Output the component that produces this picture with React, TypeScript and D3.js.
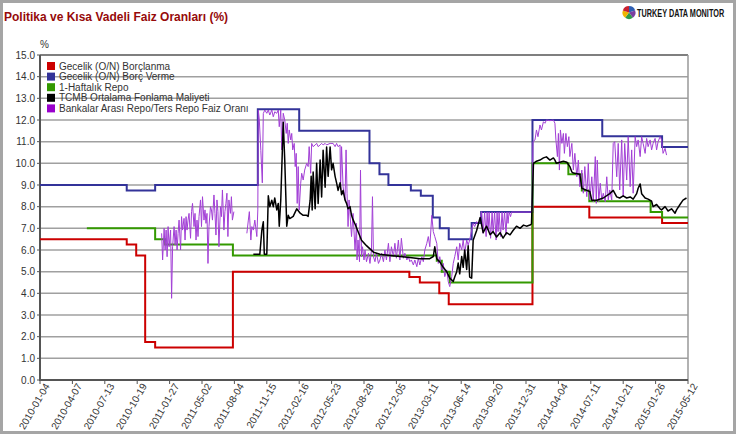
import * as d3 from 'd3';
import React, { useEffect, useRef } from 'react';

const W = 736;
const H = 434;
const FONT = "'Liberation Sans', Arial, sans-serif";

// x axis is a trading-day index, one label every 65 days
const TICK_STEP = 65;
const dateLabels = [
  '2010-01-04', '2010-04-07', '2010-07-13', '2010-10-19', '2011-01-27',
  '2011-05-02', '2011-08-04', '2011-11-15', '2012-02-16', '2012-05-23',
  '2012-08-28', '2012-12-05', '2013-03-11', '2013-06-14', '2013-09-20',
  '2013-12-31', '2014-04-04', '2014-07-11', '2014-10-21', '2015-01-26',
  '2015-05-12',
];
const yTicks = d3.range(0, 16);

// policy rates: [day index, rate from that day on]
const borrowingRate: [number, number][] = [
  [0, 6.5], [174, 6.25], [193, 5.75], [211, 1.75], [231, 1.5], [387, 5.0],
  [741, 4.75], [762, 4.5], [801, 4.0], [820, 3.5], [988, 8.0], [1102, 7.5],
  [1248, 7.25], [1300, 7.25],
];
const lendingRate: [number, number][] = [
  [0, 9.0], [174, 8.75], [231, 9.0], [437, 12.5], [520, 11.5], [661, 10.0],
  [681, 9.5], [699, 9.0], [744, 8.75], [764, 8.5], [788, 7.5], [802, 7.0],
  [820, 6.5], [866, 7.25], [885, 7.75], [988, 12.0], [1128, 11.25],
  [1248, 10.75], [1300, 10.75],
];
const weeklyRepo: [number, number][] = [
  [94, 7.0], [231, 6.5], [251, 6.25], [387, 5.75], [796, 5.5], [806, 5.0],
  [822, 4.5], [988, 10.0], [1060, 9.5], [1087, 8.75], [1102, 8.25],
  [1225, 7.75], [1248, 7.5], [1300, 7.5],
];

// daily series
const fundingCost: [number, number][] = [
  [428, 5.8], [441, 5.8], [445, 6.9], [448, 7.3], [450, 5.8], [455, 5.8],
  [458, 8.5], [461, 8.0], [465, 8.3], [468, 8.0], [471, 8.4], [475, 7.85],
  [478, 8.15], [480, 7.1], [483, 8.3], [488, 11.9], [491, 10.15], [495, 7.1],
  [498, 7.6], [501, 7.45], [508, 7.55], [515, 7.9], [522, 7.7], [528, 7.6],
  [535, 7.6], [538, 7.55], [542, 8.3], [544, 9.4], [546, 7.85], [548, 9.6],
  [552, 7.9], [555, 10.0], [558, 8.15], [562, 10.15], [565, 8.45], [568, 10.6],
  [572, 8.9], [575, 10.75], [578, 9.4], [582, 10.75], [585, 9.7], [588, 10.0],
  [592, 9.4], [595, 9.1], [598, 8.75], [602, 9.1], [605, 8.55], [608, 8.75],
  [612, 8.3], [615, 8.15], [618, 7.9], [622, 8.0], [625, 7.6], [628, 7.4],
  [632, 7.2], [639, 6.8], [645, 6.45], [655, 6.2], [669, 5.9], [682, 5.8],
  [702, 5.75], [722, 5.7], [742, 5.65], [762, 5.6], [782, 5.6], [789, 5.7],
  [792, 6.15], [796, 5.6], [802, 5.45], [809, 5.2], [816, 5.0], [822, 4.7],
  [829, 4.55], [832, 4.75], [836, 5.0], [839, 5.4], [842, 4.9], [846, 5.7],
  [849, 5.2], [852, 6.0], [856, 5.1], [859, 6.2], [862, 4.75], [866, 4.7],
  [869, 6.45], [876, 6.9], [883, 7.5], [889, 6.8], [896, 7.1], [903, 6.7],
  [909, 6.85], [916, 6.6], [923, 6.8], [929, 6.55], [936, 6.8], [943, 6.7],
  [949, 6.9], [956, 7.1], [963, 7.0], [970, 7.15], [976, 7.1], [983, 7.15],
  [986, 7.2], [990, 10.0], [996, 10.1], [1003, 10.15], [1010, 10.25],
  [1016, 10.3], [1023, 10.15], [1030, 10.25], [1033, 10.15], [1036, 10.0],
  [1043, 10.05], [1050, 10.1], [1057, 10.05], [1063, 9.85], [1067, 9.6],
  [1070, 9.55], [1083, 9.5], [1087, 8.85], [1097, 8.75], [1103, 8.7],
  [1107, 8.3], [1117, 8.3], [1130, 8.4], [1143, 8.6], [1150, 8.75],
  [1157, 8.45], [1163, 8.4], [1170, 8.5], [1177, 8.4], [1184, 8.45],
  [1190, 8.35], [1197, 8.6], [1200, 8.85], [1204, 9.05], [1207, 8.6],
  [1214, 8.4], [1220, 8.35], [1227, 8.25], [1230, 8.0], [1237, 8.1],
  [1244, 7.9], [1247, 7.85], [1254, 8.0], [1260, 7.8], [1267, 7.9],
  [1274, 7.7], [1277, 7.85], [1284, 8.1], [1290, 8.3], [1297, 8.4],
];

const interbankRate: [number, number | null][] = [
  [244, 6.77], [246, 5.54], [249, 7.0], [251, 6.0], [253, 6.92], [255, 5.69],
  [257, 7.08], [259, 6.15], [262, 6.92], [264, 3.77], [266, 6.15], [269, 7.08],
  [271, 6.23], [273, 6.92], [275, 6.0], [277, 6.77], [279, 7.38], [282, 6.0],
  [284, 7.54], [286, 6.92], [289, 7.46], [291, 6.46], [293, 7.54], [295, 6.92],
  [297, 7.38], [299, 7.69], [302, 6.54], [304, 7.77], [306, 8.15], [309, 7.08],
  [311, 7.69], [313, 6.46], [315, 7.38], [317, 6.62], [319, 7.54], [322, 8.31],
  [324, 7.08], [326, 8.46], [329, 7.38], [331, 7.85], [333, 7.23], [335, 7.69],
  [337, 5.38], [339, 7.08], [342, 8.0], [344, 7.85], [346, 7.38], [349, 8.54],
  [351, 7.69], [353, 6.69], [355, 8.31], [357, 7.77], [359, 6.15], [362, 8.0],
  [364, 7.54], [366, 8.77], [369, 6.92], [371, 7.77], [373, 8.15], [375, 8.62],
  [377, 6.62], [379, 8.31], [382, 7.69], [384, 8.46], [386, 7.38], [389, 7.77],
  [390, null],
  [415, 6.77], [418, 7.38], [420, 7.77], [423, 6.46], [425, 7.08], [428, 6.92],
  [431, 7.38], [435, 6.62], [437, 7.85], [438, 12.46], [440, 12.0],
  [443, 10.6], [446, 9.1], [448, 12.3], [451, 12.46], [455, 12.31],
  [458, 12.46], [461, 12.23], [465, 12.46], [468, 12.15], [471, 12.38],
  [475, 12.31], [478, 12.46], [480, 11.69], [483, 12.46], [485, 10.62],
  [488, 12.31], [491, 12.0], [494, 11.38], [496, 11.85], [498, 10.92],
  [500, 11.54], [503, 11.08], [505, 11.38], [507, 10.62], [510, 10.92],
  [512, 9.85], [514, 10.46], [516, 8.15], [518, 9.85], [520, 7.85], [523, 9.08],
  [525, 9.54], [528, 9.23], [531, 9.69], [535, 10.0], [538, 9.85], [540, 10.77],
  [543, 9.54], [545, 10.92], [548, 10.77], [552, 10.85], [555, 10.92],
  [558, 10.77], [562, 10.85], [565, 10.92], [568, 10.85], [572, 10.92],
  [575, 10.85], [582, 10.92], [588, 10.92], [592, 10.77], [595, 10.92],
  [598, 10.77], [602, 10.85], [603, 8.77], [605, 10.77], [608, 8.92],
  [612, 8.31], [614, 10.62], [616, 8.62], [618, 7.08], [620, 8.31],
  [625, 6.62], [628, 7.69], [632, 6.0], [635, 7.23], [636, 5.54], [638, 6.46],
  [641, 5.46], [643, 9.69], [645, 5.69], [647, 6.15], [650, 5.54], [652, 6.0],
  [655, 5.46], [659, 5.85], [662, 5.38], [665, 6.0], [667, 8.46], [669, 5.69],
  [672, 5.46], [675, 5.85], [679, 5.38], [682, 5.54], [685, 5.85], [689, 5.46],
  [692, 6.0], [695, 5.54], [699, 6.31], [702, 5.46], [705, 6.15], [709, 5.69],
  [712, 6.31], [715, 5.62], [719, 6.46], [722, 5.54], [725, 6.54], [729, 5.62],
  [732, 5.85], [736, 5.54], [739, 5.69], [742, 5.46], [745, 5.54], [749, 5.31],
  [752, 5.54], [756, 5.23], [759, 5.62], [762, 5.31], [766, 5.69], [769, 5.46],
  [772, 6.0], [776, 6.31], [779, 6.62], [782, 6.15], [786, 7.6], [789, 6.85],
  [792, 6.62], [796, 6.31], [799, 5.38], [802, 5.69], [806, 5.08], [809, 5.38],
  [812, 4.77], [816, 5.08], [819, 4.54], [822, 4.31], [826, 4.77], [829, 5.38],
  [832, 5.69], [836, 6.15], [839, 5.54], [842, 6.31], [846, 6.0], [849, 6.46],
  [852, 5.85], [856, 6.46], [859, 6.23], [862, 6.46], [866, 6.92], [869, 7.23],
  [872, 7.08], [876, 7.31], [879, 7.23], [882, 7.31], [886, 7.77],
  [889, 6.77], [892, 7.75], [895, 6.62], [897, 7.75], [899, 6.92], [901, 7.75],
  [904, 6.54], [907, 7.75], [909, 6.77], [912, 7.75], [915, 6.46], [917, 7.75],
  [919, 6.85], [921, 7.75], [924, 6.62], [927, 7.75], [929, 6.92], [932, 7.75],
  [935, 6.69], [937, 7.75], [939, 7.23], [941, 7.75], [944, 7.54], [946, 7.75],
  [987, 7.75], [989, 11.0], [993, 11.08], [996, 11.54], [999, 11.23],
  [1003, 11.77], [1006, 11.54], [1010, 11.92], [1013, 11.85], [1016, 12.0],
  [1023, 11.97], [1030, 12.0], [1033, 11.85], [1035, 11.08], [1038, 10.31],
  [1040, 11.38], [1042, 9.69], [1044, 11.54], [1047, 10.92], [1050, 11.38],
  [1052, 10.46], [1055, 11.38], [1058, 10.77], [1061, 11.23], [1063, 10.31],
  [1067, 10.92], [1070, 9.69], [1073, 10.46], [1077, 9.38], [1080, 10.15],
  [1083, 8.92], [1087, 9.69], [1090, 8.62], [1093, 9.85], [1097, 8.46],
  [1100, 10.0], [1103, 8.31], [1107, 9.38], [1110, 8.23], [1114, 10.31],
  [1116, 8.15], [1118, 10.15], [1121, 8.23], [1124, 9.08], [1127, 8.31],
  [1130, 8.62], [1134, 8.23], [1137, 9.38], [1140, 8.31], [1143, 8.77],
  [1147, 8.31], [1150, 10.92], [1153, 11.0], [1157, 9.38], [1160, 10.92],
  [1163, 8.77], [1167, 11.08], [1170, 8.46], [1173, 10.92], [1177, 9.23],
  [1180, 11.23], [1184, 8.92], [1187, 10.62], [1190, 8.62], [1194, 11.23],
  [1197, 10.77], [1200, 11.08], [1204, 10.31], [1207, 11.23], [1210, 10.92],
  [1214, 10.46], [1217, 11.15], [1220, 10.77], [1224, 11.08], [1227, 10.62],
  [1230, 10.92], [1234, 11.15], [1237, 10.62], [1240, 11.0], [1244, 11.23],
  [1247, 11.08], [1250, 10.46], [1254, 10.69], [1257, 10.38],
];

const seriesNames = [
  'Gecelik (O/N) Borçlanma',
  'Gecelik (O/N) Borç Verme',
  '1-Haftalık Repo',
  'TCMB Ortalama Fonlama Maliyeti',
  'Bankalar Arası Repo/Ters Repo Faiz Oranı',
];
const seriesColors = ['#cc0000', '#333399', '#339900', '#000000', '#9900cc'];
const logoColors = ['#2f5fb3', '#7a3fa0', '#2e9a4a', '#f0b400', '#c8202f'];

const App = () => {
  const ref = useRef<SVGSVGElement>(null);

  useEffect(() => {
    const svg = d3.select(ref.current);
    svg.selectAll('*').remove();

    const left = 40;
    const right = 688;
    const top = 55;
    const bottom = 380;

    const x = d3
      .scaleLinear()
      .domain([0, TICK_STEP * (dateLabels.length - 1)])
      .range([left, right]);
    const y = d3.scaleLinear().domain([0, 15]).range([bottom, top]);

    // frame round the whole picture
    svg
      .append('rect')
      .attr('x', 1.5)
      .attr('y', 1.5)
      .attr('width', W - 3)
      .attr('height', H - 3)
      .attr('fill', '#fff')
      .attr('stroke', '#a5a5a5')
      .attr('stroke-width', 3);

    svg
      .append('text')
      .attr('x', 4)
      .attr('y', 21)
      .attr('fill', '#960a0a')
      .style('font', `bold 12px ${FONT}`)
      .text('Politika ve Kısa Vadeli Faiz Oranları (%)');

    // logo
    const pie = d3.pie<number>().sort(null)([1, 1, 1, 1, 1]);
    const arc = d3.arc<d3.PieArcDatum<number>>().innerRadius(0).outerRadius(6.5);
    svg
      .append('g')
      .attr('transform', 'translate(629,12.5)')
      .selectAll('path')
      .data(pie)
      .join('path')
      .attr('d', arc)
      .attr('fill', (_, i) => logoColors[i]);
    svg
      .append('text')
      .attr('transform', 'translate(637,16.5) scale(0.73,1)')
      .attr('fill', '#111')
      .style('font', `bold 10px ${FONT}`)
      .text('TURKEY DATA MONITOR');

    // grid
    svg
      .append('g')
      .selectAll('line')
      .data(yTicks.filter((d) => d > 0))
      .join('line')
      .attr('x1', left)
      .attr('x2', right)
      .attr('y1', (d) => y(d))
      .attr('y2', (d) => y(d))
      .attr('stroke', (d) => (d === 15 ? '#555' : '#a0a0a0'))
      .attr('stroke-width', 1.5);
    svg
      .append('line')
      .attr('x1', right)
      .attr('x2', right)
      .attr('y1', top)
      .attr('y2', bottom)
      .attr('stroke', '#999')
      .attr('stroke-width', 1.5);

    // legend (no background, grid shows through)
    const legend = svg.append('g').attr('transform', 'translate(47,66)');
    seriesNames.forEach((name, i) => {
      const row = legend.append('g').attr('transform', `translate(0,${i * 10.6})`);
      row
        .append('rect')
        .attr('x', 0)
        .attr('y', -4)
        .attr('width', 8)
        .attr('height', 8)
        .attr('fill', seriesColors[i]);
      row
        .append('text')
        .attr('x', 12)
        .attr('y', 3.5)
        .attr('fill', '#333')
        .style('font', `10px ${FONT}`)
        .text(name);
    });

    // axes
    svg
      .append('g')
      .selectAll('text')
      .data(yTicks)
      .join('text')
      .attr('x', 35)
      .attr('y', (d) => y(d) + 3.5)
      .attr('text-anchor', 'end')
      .attr('fill', '#333')
      .style('font', `10px ${FONT}`)
      .text((d) => d.toFixed(1));
    svg
      .append('text')
      .attr('x', 40)
      .attr('y', 48)
      .attr('fill', '#333')
      .style('font', `10px ${FONT}`)
      .text('%');

    svg
      .append('g')
      .selectAll('line')
      .data(yTicks)
      .join('line')
      .attr('x1', left - 3)
      .attr('x2', left)
      .attr('y1', (d) => y(d))
      .attr('y2', (d) => y(d))
      .attr('stroke', '#555')
      .attr('stroke-width', 1);

    svg
      .append('g')
      .selectAll('line')
      .data(dateLabels)
      .join('line')
      .attr('x1', (_, i) => x(i * TICK_STEP))
      .attr('x2', (_, i) => x(i * TICK_STEP))
      .attr('y1', bottom)
      .attr('y2', bottom + 4)
      .attr('stroke', '#555')
      .attr('stroke-width', 1);

    svg
      .append('g')
      .selectAll('text')
      .data(dateLabels)
      .join('text')
      .attr('transform', (_, i) => `translate(${x(i * TICK_STEP) + 10},386) rotate(-60)`)
      .attr('text-anchor', 'end')
      .attr('fill', '#333')
      .style('font', `10px ${FONT}`)
      .text((d) => d);

    svg
      .append('path')
      .attr('d', `M${left},${top}V${bottom}H${right}`)
      .attr('fill', 'none')
      .attr('stroke', '#555')
      .attr('stroke-width', 2);

    // series
    const stepLine = d3
      .line<[number, number]>()
      .x((d) => x(d[0]))
      .y((d) => y(d[1]))
      .curve(d3.curveStepAfter);
    const dailyLine = d3
      .line<[number, number | null]>()
      .defined((d) => d[1] !== null)
      .x((d) => x(d[0]))
      .y((d) => y(d[1] as number));

    const plot = svg.append('g');
    [borrowingRate, lendingRate, weeklyRepo].forEach((data, i) => {
      plot
        .append('path')
        .attr('d', stepLine(data))
        .attr('fill', 'none')
        .attr('stroke', seriesColors[i])
        .attr('stroke-width', 2);
    });
    plot
      .append('path')
      .attr('d', dailyLine(interbankRate))
      .attr('fill', 'none')
      .attr('stroke', '#a23fd6')
      .attr('stroke-width', 1)
      .attr('stroke-linejoin', 'round');
    plot
      .append('path')
      .attr('d', dailyLine(fundingCost))
      .attr('fill', 'none')
      .attr('stroke', seriesColors[3])
      .attr('stroke-width', 1.5)
      .attr('stroke-linejoin', 'round');
  }, []);

  return (
    <svg
      ref={ref}
      width={W}
      height={H}
      style={{ position: 'absolute', left: 0, top: 0, display: 'block' }}
    />
  );
};

export default App;
